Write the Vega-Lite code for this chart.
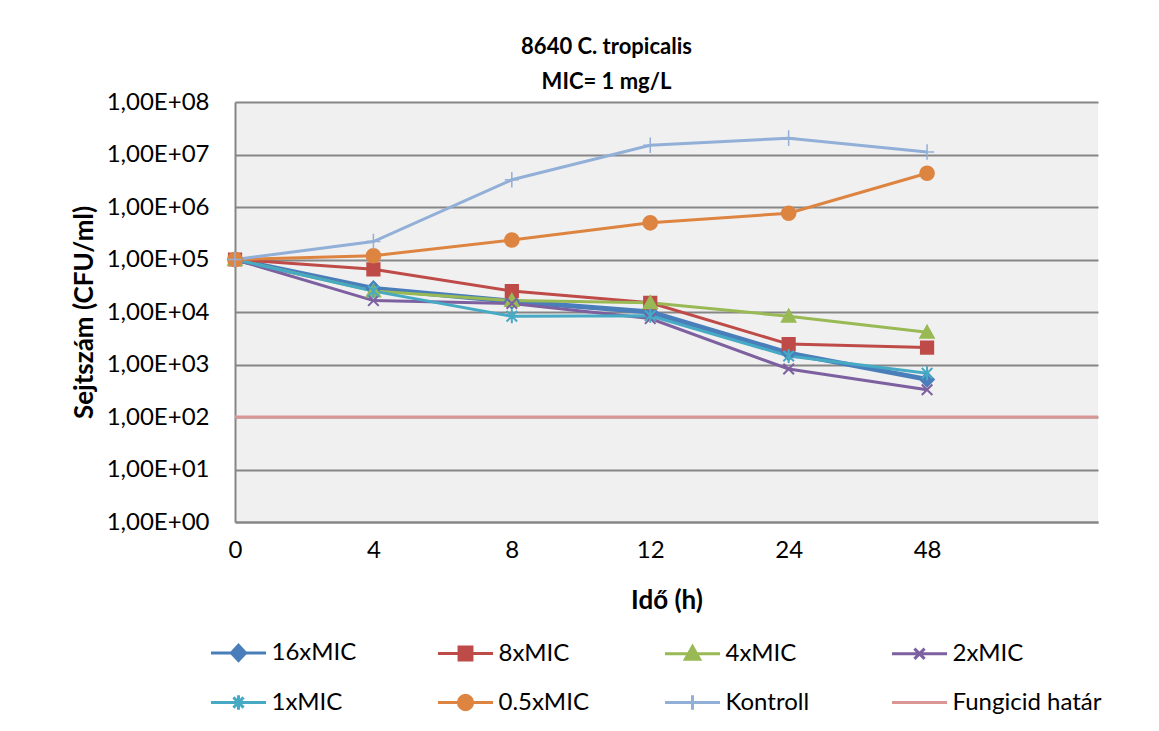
{
  "$schema": "https://vega.github.io/schema/vega-lite/v6.json",
  "width": 863,
  "height": 420,
  "autosize": "none",
  "padding": {"left": 235, "top": 102, "right": 61, "bottom": 209},
  "background": "white",
  "view": {"fill": "#f0f0f0", "stroke": null},
  "config": {
    "font": "Lato",
    "view": {"fill": "#f0f0f0", "stroke": null},
    "legend": {
      "direction": "horizontal",
      "columns": 4,
      "gridAlign": "all",
      "symbolSize": 1156,
      "labelFontSize": 24,
      "labelFont": "Lato",
      "labelColor": "black",
      "labelOffset": 14.5,
      "columnPadding": 10,
      "rowPadding": 17,
      "symbolStrokeWidth": 3,
      "symbolOpacity": 1
    }
  },
  "title": {
    "text": ["8640 C. tropicalis", "MIC= 1 mg/L"],
    "fontSize": 22,
    "fontWeight": "bold",
    "font": "Lato",
    "lineHeight": 35,
    "dx": -60,
    "offset": -4,
    "anchor": "middle",
    "color": "black"
  },
  "datasets": {
    "main": [
      {"series": "16xMIC", "t": "0", "idx": 0, "cfu": 100000},
      {"series": "16xMIC", "t": "4", "idx": 1, "cfu": 28000},
      {"series": "16xMIC", "t": "8", "idx": 2, "cfu": 16000},
      {"series": "16xMIC", "t": "12", "idx": 3, "cfu": 10000},
      {"series": "16xMIC", "t": "24", "idx": 4, "cfu": 1650},
      {"series": "16xMIC", "t": "48", "idx": 5, "cfu": 520},
      {"series": "8xMIC", "t": "0", "idx": 0, "cfu": 100000},
      {"series": "8xMIC", "t": "4", "idx": 1, "cfu": 65000},
      {"series": "8xMIC", "t": "8", "idx": 2, "cfu": 25000},
      {"series": "8xMIC", "t": "12", "idx": 3, "cfu": 15000},
      {"series": "8xMIC", "t": "24", "idx": 4, "cfu": 2450},
      {"series": "8xMIC", "t": "48", "idx": 5, "cfu": 2100},
      {"series": "4xMIC", "t": "0", "idx": 0, "cfu": 100000},
      {"series": "4xMIC", "t": "4", "idx": 1, "cfu": 25000},
      {"series": "4xMIC", "t": "8", "idx": 2, "cfu": 16500},
      {"series": "4xMIC", "t": "12", "idx": 3, "cfu": 15000},
      {"series": "4xMIC", "t": "24", "idx": 4, "cfu": 8300},
      {"series": "4xMIC", "t": "48", "idx": 5, "cfu": 4100},
      {"series": "2xMIC", "t": "0", "idx": 0, "cfu": 100000},
      {"series": "2xMIC", "t": "4", "idx": 1, "cfu": 16500},
      {"series": "2xMIC", "t": "8", "idx": 2, "cfu": 14500},
      {"series": "2xMIC", "t": "12", "idx": 3, "cfu": 7500},
      {"series": "2xMIC", "t": "24", "idx": 4, "cfu": 820},
      {"series": "2xMIC", "t": "48", "idx": 5, "cfu": 330},
      {"series": "1xMIC", "t": "0", "idx": 0, "cfu": 100000},
      {"series": "1xMIC", "t": "4", "idx": 1, "cfu": 25000},
      {"series": "1xMIC", "t": "8", "idx": 2, "cfu": 8300},
      {"series": "1xMIC", "t": "12", "idx": 3, "cfu": 8500},
      {"series": "1xMIC", "t": "24", "idx": 4, "cfu": 1450},
      {"series": "1xMIC", "t": "48", "idx": 5, "cfu": 680},
      {"series": "0.5xMIC", "t": "0", "idx": 0, "cfu": 100000},
      {"series": "0.5xMIC", "t": "4", "idx": 1, "cfu": 118000},
      {"series": "0.5xMIC", "t": "8", "idx": 2, "cfu": 235000},
      {"series": "0.5xMIC", "t": "12", "idx": 3, "cfu": 500000},
      {"series": "0.5xMIC", "t": "24", "idx": 4, "cfu": 760000},
      {"series": "0.5xMIC", "t": "48", "idx": 5, "cfu": 4400000},
      {"series": "Kontroll", "t": "0", "idx": 0, "cfu": 100000},
      {"series": "Kontroll", "t": "4", "idx": 1, "cfu": 220000},
      {"series": "Kontroll", "t": "8", "idx": 2, "cfu": 3300000},
      {"series": "Kontroll", "t": "12", "idx": 3, "cfu": 15000000},
      {"series": "Kontroll", "t": "24", "idx": 4, "cfu": 20500000},
      {"series": "Kontroll", "t": "48", "idx": 5, "cfu": 11200000}
    ],
    "limit": [
      {"series": "Fungicid határ", "cfu": 100}
    ],
    "legend": [
      {"series": "16xMIC"},
      {"series": "8xMIC"},
      {"series": "4xMIC"},
      {"series": "2xMIC"},
      {"series": "1xMIC"},
      {"series": "0.5xMIC"},
      {"series": "Kontroll"},
      {"series": "Fungicid határ"}
    ]
  },
  "layer": [
    {
      "data": {"name": "main"},
      "mark": {"type": "line"},
      "encoding": {
        "x": {
          "field": "idx",
          "type": "quantitative",
          "scale": {"domain": [0, 6.235], "nice": false, "zero": false},
          "axis": {
            "title": "Idő (h)",
            "values": [0, 1, 2, 3, 4, 5],
            "labelExpr": "['0','4','8','12','24','48'][datum.value]",
            "grid": false,
            "ticks": false,
            "tickSize": 0,
            "labelFlush": false,
            "labelPadding": 16,
            "labelFontSize": 24,
            "labelColor": "black",
            "titleFontSize": 26,
            "titleFontWeight": "bold",
            "titleColor": "black",
            "titlePadding": 25,
            "domainColor": "#868686",
            "domainWidth": 2
          }
        },
        "y": {
          "field": "cfu",
          "type": "quantitative",
          "scale": {"type": "log", "domain": [1, 100000000], "nice": false},
          "axis": {
            "title": "Sejtszám (CFU/ml)",
            "values": [1, 10, 100, 1000, 10000, 100000, 1000000, 10000000, 100000000],
            "labelExpr": "'1,00E+0' + round(log(datum.value)/LN10)",
            "grid": true,
            "ticks": false,
            "tickSize": 0,
            "labelPadding": 26,
            "labelFontSize": 24,
            "labelColor": "black",
            "titleFontSize": 26,
            "titleFontWeight": "bold",
            "titleColor": "black",
            "titlePadding": 9,
            "domainColor": "#868686",
            "domainWidth": 2,
            "gridColor": "#868686",
            "gridWidth": 2
          }
        },
        "stroke": {
          "field": "series",
          "type": "nominal",
          "scale": {
            "domain": ["16xMIC", "8xMIC", "4xMIC", "2xMIC", "1xMIC", "0.5xMIC", "Kontroll", "Fungicid határ"],
            "range": ["#4a7ebb", "#be4b48", "#98b954", "#7d60a0", "#46aac5", "#dd8441", "#92afd7", "#d99694"]
          },
          "legend": {"title": null, "orient": "none", "legendX": -15, "legendY": 532}
        },
        "strokeWidth": {"condition": {"test": "datum.series === '16xMIC'", "value": 5}, "value": 3}
      }
    },
    {
      "data": {"name": "limit"},
      "mark": {"type": "rule", "strokeWidth": 3},
      "encoding": {
        "y": {"field": "cfu", "type": "quantitative"},
        "stroke": {"field": "series", "type": "nominal"}
      }
    },
    {
      "data": {"name": "main"},
      "transform": [{"filter": "datum.series === '16xMIC'"}],
      "mark": {"type": "point", "filled": true, "shape": "M0,-1.05L1,0L0,1.05L-1,0Z", "size": 200, "strokeWidth": 1.5, "opacity": 1},
      "encoding": {
        "x": {"field": "idx", "type": "quantitative"},
        "y": {"field": "cfu", "type": "quantitative"},
        "fill": {
          "field": "series",
          "type": "nominal",
          "scale": {
            "domain": ["16xMIC", "8xMIC", "4xMIC", "2xMIC", "1xMIC", "0.5xMIC", "Kontroll", "Fungicid határ"],
            "range": ["#4a7ebb", "#be4b48", "#98b954", "#7d60a0", "#46aac5", "#dd8441", "#92afd7", "#d99694"]
          },
          "legend": {"title": null, "orient": "none", "legendX": -15, "legendY": 532}
        },
        "stroke": {"field": "series", "type": "nominal"}
      }
    },
    {
      "data": {"name": "main"},
      "transform": [{"filter": "datum.series === '8xMIC'"}],
      "mark": {"type": "point", "filled": true, "shape": "M-0.9,-0.9H0.9V0.9H-0.9Z", "size": 200, "strokeWidth": 1.5, "opacity": 1},
      "encoding": {
        "x": {"field": "idx", "type": "quantitative"},
        "y": {"field": "cfu", "type": "quantitative"},
        "fill": {"field": "series", "type": "nominal"},
        "stroke": {"field": "series", "type": "nominal"}
      }
    },
    {
      "data": {"name": "main"},
      "transform": [{"filter": "datum.series === '4xMIC'"}],
      "mark": {"type": "point", "filled": true, "shape": "M0,-1L1,0.8H-1Z", "size": 200, "strokeWidth": 1.5, "opacity": 1},
      "encoding": {
        "x": {"field": "idx", "type": "quantitative"},
        "y": {"field": "cfu", "type": "quantitative"},
        "fill": {"field": "series", "type": "nominal"},
        "stroke": {"field": "series", "type": "nominal"}
      }
    },
    {
      "data": {"name": "main"},
      "transform": [{"filter": "datum.series === '2xMIC'"}],
      "mark": {"type": "point", "filled": true, "shape": "M-0.75,-0.75L0.75,0.75M-0.75,0.75L0.75,-0.75", "size": 200, "strokeWidth": 2, "opacity": 1},
      "encoding": {
        "x": {"field": "idx", "type": "quantitative"},
        "y": {"field": "cfu", "type": "quantitative"},
        "fill": {"field": "series", "type": "nominal"},
        "stroke": {"field": "series", "type": "nominal"}
      }
    },
    {
      "data": {"name": "main"},
      "transform": [{"filter": "datum.series === '1xMIC'"}],
      "mark": {"type": "point", "filled": true, "shape": "M-0.75,-0.75L0.75,0.75M-0.75,0.75L0.75,-0.75M0,-1V1", "size": 200, "strokeWidth": 2, "opacity": 1},
      "encoding": {
        "x": {"field": "idx", "type": "quantitative"},
        "y": {"field": "cfu", "type": "quantitative"},
        "fill": {"field": "series", "type": "nominal"},
        "stroke": {"field": "series", "type": "nominal"}
      }
    },
    {
      "data": {"name": "main"},
      "transform": [{"filter": "datum.series === '0.5xMIC'"}],
      "mark": {"type": "point", "filled": true, "shape": "circle", "size": 200, "strokeWidth": 1.5, "opacity": 1},
      "encoding": {
        "x": {"field": "idx", "type": "quantitative"},
        "y": {"field": "cfu", "type": "quantitative"},
        "fill": {"field": "series", "type": "nominal"},
        "stroke": {"field": "series", "type": "nominal"}
      }
    },
    {
      "data": {"name": "main"},
      "transform": [{"filter": "datum.series === 'Kontroll'"}],
      "mark": {"type": "point", "filled": true, "shape": "M-1,0H1M0,-1.1V1.1", "size": 200, "strokeWidth": 1.5, "opacity": 1},
      "encoding": {
        "x": {"field": "idx", "type": "quantitative"},
        "y": {"field": "cfu", "type": "quantitative"},
        "fill": {"field": "series", "type": "nominal"},
        "stroke": {"field": "series", "type": "nominal"}
      }
    },
    {
      "data": {"name": "legend"},
      "mark": {"type": "point", "filled": true, "opacity": 0},
      "encoding": {
        "fill": {"field": "series", "type": "nominal"},
        "stroke": {"field": "series", "type": "nominal"},
        "shape": {
          "field": "series",
          "type": "nominal",
          "scale": {
            "domain": ["16xMIC", "8xMIC", "4xMIC", "2xMIC", "1xMIC", "0.5xMIC", "Kontroll", "Fungicid határ"],
            "range": [
              "M-1.62,0H1.62M0,-0.45L0.42,0L0,0.45L-0.42,0Z",
              "M-1.62,0H1.62M-0.38,-0.38H0.38V0.38H-0.38Z",
              "M-1.62,0H1.62M0,-0.42L0.42,0.32H-0.42Z",
              "M-1.62,0H1.62M-0.3,-0.3L0.3,0.3M-0.3,0.3L0.3,-0.3",
              "M-1.62,0H1.62M-0.3,-0.3L0.3,0.3M-0.3,0.3L0.3,-0.3M0,-0.42V0.42",
              "M-1.62,0H1.62M-0.42,0A0.42,0.42,0,1,0,0.42,0A0.42,0.42,0,1,0,-0.42,0Z",
              "M-1.62,0H1.62M0,-0.42V0.42",
              "M-1.62,0H1.62"
            ]
          },
          "legend": {"title": null, "orient": "none", "legendX": -15, "legendY": 532}
        }
      }
    }
  ]
}
